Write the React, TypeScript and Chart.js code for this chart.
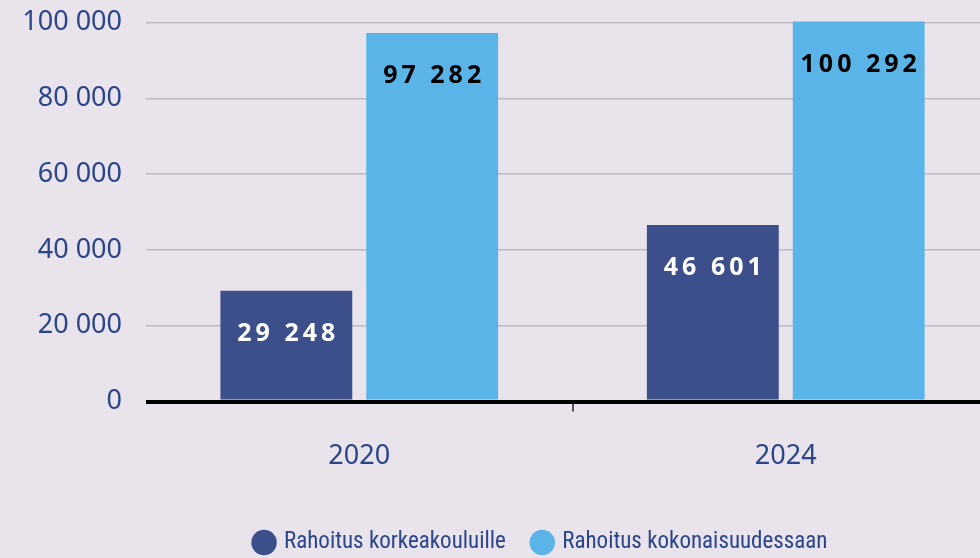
import React, { useEffect, useRef } from "react";
import { Chart, registerables } from "chart.js";

Chart.register(...registerables);

const categories = ["2020", "2024"];
const seriesNames = ["Rahoitus korkeakouluille", "Rahoitus kokonaisuudessaan"];
const korkeakouluille = [29248, 46601];
const kokonaisuudessaan = [97282, 100292];
const yTicks = [0, 20000, 40000, 60000, 80000, 100000];

const BG = "#E9E3EC";
const DARK = "#3D4F8B";
const LIGHT = "#5BB4E7";
const TEXT = "#2B4589";

const fmt = (v: number) => String(v).replace(/\B(?=(\d{3})+(?!\d))/g, " ");

const valueLabels = {
  id: "valueLabels",
  afterDatasetsDraw(chart: any) {
    const ctx = chart.ctx;
    ctx.save();
    ctx.font = "bold 25px 'Noto Sans'";
    ctx.textAlign = "center";
    ctx.textBaseline = "middle";
    const spacing = 4;
    try { (ctx as any).letterSpacing = spacing + "px"; } catch (e) {}
    chart.data.datasets.forEach((ds: any, di: number) => {
      const meta = chart.getDatasetMeta(di);
      meta.data.forEach((bar: any, i: number) => {
        ctx.fillStyle = di === 0 ? "#FFFFFF" : "#000000";
        ctx.fillText(fmt(ds.data[i]), bar.x + spacing / 2, bar.y + 43);
      });
    });
    ctx.restore();
  },
};

const legendShift = {
  id: "legendShift",
  afterLayout(chart: any) {
    const lg = chart.legend;
    if (!lg) return;
    lg.left += 42;
    lg.right += 42;
    lg.top += 6;
    lg.bottom += 6;
  },
};

export default function App() {
  const ref = useRef<HTMLCanvasElement>(null);
  useEffect(() => {
    if (!ref.current) return;
    const chart = new Chart(ref.current, {
      type: "bar",
      data: {
        labels: categories,
        datasets: [
          { label: seriesNames[0], data: korkeakouluille, backgroundColor: DARK, categoryPercentage: 0.684, barPercentage: 0.904 },
          { label: seriesNames[1], data: kokonaisuudessaan, backgroundColor: LIGHT, categoryPercentage: 0.684, barPercentage: 0.904 },
        ],
      },
      options: {
        responsive: false,
        animation: false,
        layout: { padding: { left: 0, right: 1, top: 0, bottom: 0 } },
        plugins: {
          legend: {
            position: "bottom",
            labels: {
              usePointStyle: true,
              pointStyle: "circle",
              boxHeight: 18,
              boxWidth: 17,
              padding: 28,
              color: TEXT,
              font: { family: "'Liberation Sans Narrow', 'Roboto Condensed', 'Liberation Sans'", size: 23 },
            },
          },
          tooltip: { enabled: false },
        },
        scales: {
          x: {
            grid: {
              drawOnChartArea: false,
              tickLength: 10,
              lineWidth: 2,
              color: (c: any) => (c.index === 1 ? "#555555" : "rgba(0,0,0,0)"),
            },
            border: { display: false },
            ticks: { color: TEXT, padding: 29, font: { family: "'Noto Sans'", size: 27 } },
            afterFit: (s: any) => {
              s.height = 558 - 401.5 - 61;
              s.paddingLeft = 0;
              s.paddingRight = 0;
            },
          },
          y: {
            min: 0,
            max: 106000,
            afterBuildTicks: (s: any) => {
              s.ticks = yTicks.map((v) => ({ value: v }));
            },
            grid: {
              drawTicks: false,
              color: (c: any) => (c.tick && c.tick.value === 0 ? "#000000" : "#BDB9C1"),
              lineWidth: (c: any) => (c.tick && c.tick.value === 0 ? 4 : 1.5),
            },
            border: { display: false },
            ticks: {
              color: TEXT,
              padding: 24,
              font: { family: "'Noto Sans'", size: 27 },
              callback: (v: any) => fmt(Number(v)),
            },
            afterFit: (s: any) => {
              s.width = 146;
              s.paddingTop = 0;
              s.paddingBottom = 0;
            },
          },
        },
      },
      plugins: [valueLabels, legendShift],
    });
    return () => chart.destroy();
  }, []);
  return (
    <div style={{ position: "fixed", left: 0, top: 0, width: 980, height: 558, overflow: "hidden", background: BG }}>
      <canvas ref={ref} width={1000} height={558} style={{ display: "block", width: 1000, height: 558 }} />
    </div>
  );
}
